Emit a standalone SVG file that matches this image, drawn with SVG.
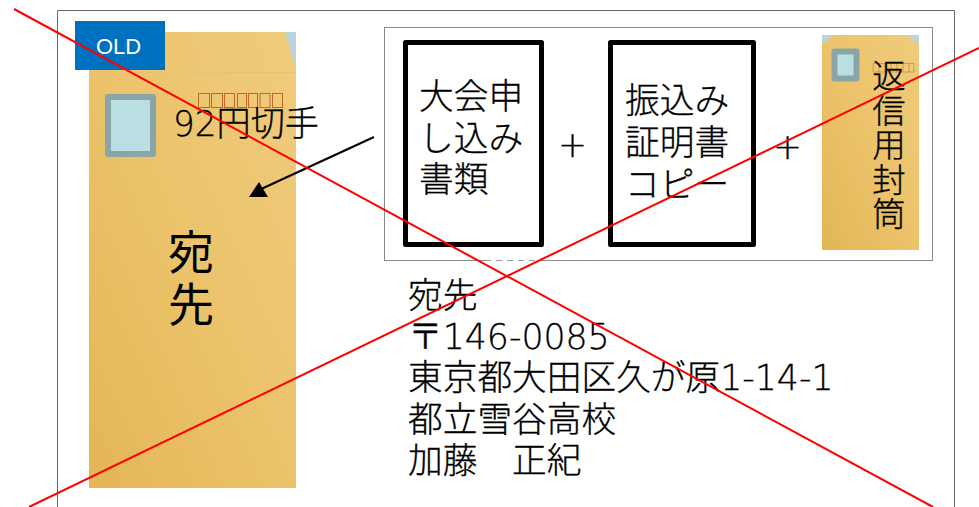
<svg xmlns="http://www.w3.org/2000/svg" width="979" height="507" viewBox="0 0 979 507">
<style>
text{font-family:"DejaVu Sans","Noto Sans CJK JP",sans-serif;fill:#000;font-weight:300;stroke:#000;stroke-width:0.3}
.t{font-size:34.700px}
.box{fill:#fff;stroke:#000;stroke-width:5;stroke-linejoin:round}
.stamp{fill:#b9dfe2;stroke:#8aa5a8;stroke-linejoin:round}
.zip{fill:none;stroke:#c8642a;stroke-width:1}
.red{stroke:#f00;stroke-width:2;fill:none}
</style>
<defs>
<linearGradient id="env" x1="1" y1="0" x2="0" y2="1"><stop offset="0" stop-color="#efcc7c"/><stop offset="0.5" stop-color="#ecc36b"/><stop offset="1" stop-color="#e3b556"/></linearGradient>
</defs>
<rect width="979" height="507" fill="#fff"/>
<path d="M57.500 507V10.500H954.500V507" fill="none" stroke="#666"/>
<g id="envelope-main">
<rect x="89" y="32" width="207" height="456" fill="url(#env)"/>
<path d="M285 32H296V69z" fill="#bcd3db"/>
<path d="M89 72.500H296" stroke="#e6c374" stroke-width="1"/>
<rect x="108" y="97" width="45" height="57" class="stamp" stroke-width="6"/>
<g class="zip"><rect x="198.500" y="93.500" width="11" height="14"/><rect x="211.500" y="93.500" width="11" height="14"/><rect x="224.500" y="93.500" width="10" height="14"/><rect x="237.500" y="93.500" width="9" height="14"/><rect x="248.500" y="93.500" width="9" height="14"/><rect x="260" y="93.500" width="10" height="14"/><rect x="272.500" y="93.500" width="10" height="14"/></g>
<text x="173" y="136" class="t" textLength="146" lengthAdjust="spacingAndGlyphs">92円切手</text>
<text x="168" y="269" font-size="46" style="font-weight:400;stroke:none">宛</text>
<text x="168" y="321" font-size="46" style="font-weight:400;stroke:none">先</text>
</g>
<g id="old-badge">
<rect x="75" y="21" width="90" height="49" fill="#0070c0"/>
<text x="96" y="54" font-size="22" style="fill:#fff;stroke:none;font-family:'Liberation Sans',sans-serif;font-weight:400">OLD</text>
</g>
<g id="enclosure-frame">
<rect x="384.500" y="27.500" width="548" height="233" fill="#fff" stroke="#888"/>
<path d="M485 260.500H540" stroke="#fff" stroke-width="1.500"/>
<path d="M485 260.500H540" stroke="#999" stroke-dasharray="6 5"/>
</g>
<g id="application-docs">
<rect x="405.500" y="42.500" width="136" height="202" class="box"/>
<text x="419" y="109" class="t">大会申</text>
<text x="419" y="151" class="t">し込み</text>
<text x="419" y="192" class="t">書類</text>
</g>
<text id="plus-1" x="558" y="157" class="t">+</text>
<g id="payment-copy">
<rect x="610.500" y="42.500" width="143" height="202" class="box"/>
<text x="625" y="113" class="t">振込み</text>
<text x="625" y="155" class="t">証明書</text>
<text x="625" y="197" class="t">コピー</text>
</g>
<text id="plus-2" x="773" y="159" class="t">+</text>
<g id="return-envelope">
<rect x="822" y="35" width="97" height="215" fill="url(#env)"/>
<path d="M822 35H835L822 44zM919 35H906L919 44z" fill="#bcd3db"/>
<rect x="834.500" y="51.500" width="22" height="27" class="stamp" stroke-width="6"/>
<g class="zip" opacity="0.5"><path d="M873 63.500H914V72H873zM879 63.500V72M885 63.500V72M891 63.500V72M897 63.500V72M903 63.500V72M909 63.500V72"/></g>
<text x="886" y="59" font-size="33.500" letter-spacing="1" style="writing-mode:vertical-rl">返信用封筒</text>
</g>
<g id="address">
<text x="408" y="308" class="t">宛先</text>
<text x="408" y="349" class="t">〒146-0085</text>
<text x="408" y="390" class="t">東京都大田区久が原1-14-1</text>
<text x="408" y="432" class="t">都立雪谷高校</text>
<text x="408" y="473" class="t">加藤　正紀</text>
</g>
<g id="connectors">
<path d="M374 137L259 190" stroke="#000" stroke-width="2" fill="none"/>
<path d="M249 197L259 182L268 197z" fill="#000"/>
<path class="red" d="M14 9L933 507"/>
<path class="red" d="M979 48L29 507"/>
</g>
</svg>
